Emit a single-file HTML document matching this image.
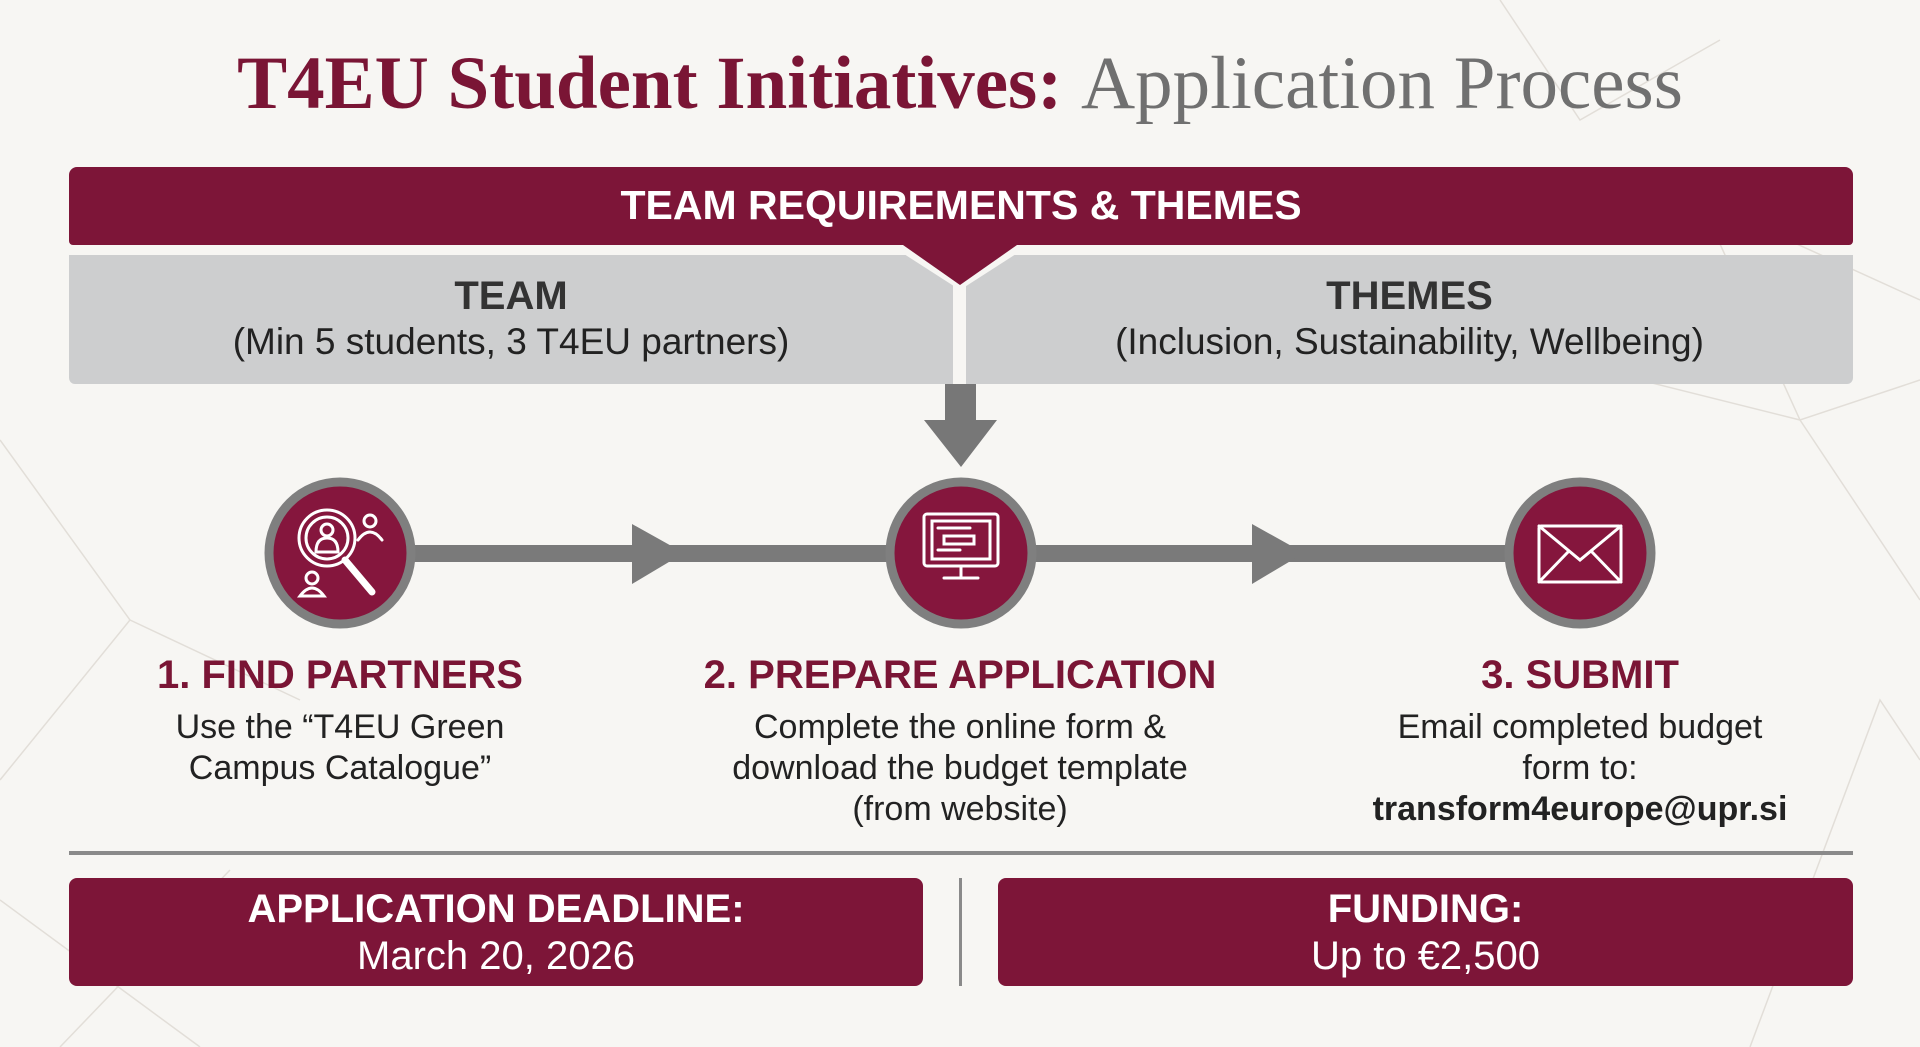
<!DOCTYPE html>
<html><head><meta charset="utf-8"><style>
html,body{margin:0;padding:0}
body{width:1920px;height:1047px;background:#f7f6f3;position:relative;overflow:hidden;font-family:"Liberation Sans",sans-serif}
.abs{position:absolute}
.c{text-align:center}
.title{left:0;width:1920px;top:42px;font-family:"Liberation Serif",serif;font-size:75px;line-height:84px;text-align:center;color:#7a1535;font-weight:bold;white-space:nowrap}
.title span{font-weight:normal;color:#707070}
.bar{background:#7d1538;border-radius:8px;color:#fff}
.st{color:#7a1535;font-weight:bold;font-size:40px;line-height:46px;white-space:nowrap}
.bd{color:#222;font-size:34px;line-height:41px;white-space:nowrap}
</style></head><body>
<svg class="abs" style="left:0;top:0" width="1920" height="1047">
<g stroke="#e2ded8" stroke-width="1.5" fill="none">
<path d="M0 440 L130 620 L0 780 M130 620 L300 700 M0 900 L200 1047 M60 1047 L230 870"/>
<path d="M1480 240 L1700 200 L1920 300 M1700 200 L1800 420 L1920 380 M1800 420 L1920 600 M1750 1047 L1880 700 L1920 760 M1640 380 L1800 420"/>
<path d="M1500 0 L1580 120 L1720 40"/>
</g>
</svg>
<div class="abs title">T4EU Student Initiatives: <span>Application Process</span></div>

<div class="abs bar" style="left:69px;top:167px;width:1784px;height:78px;border-radius:8px 8px 4px 4px"></div>
<div class="abs c" style="left:69px;top:181px;width:1784px;color:#fff;font-weight:bold;font-size:41px;line-height:48px">TEAM REQUIREMENTS &amp; THEMES</div>

<div class="abs" style="left:69px;top:255px;width:884px;height:129px;background:#cdcecf;border-radius:0 0 0 6px"></div>
<div class="abs" style="left:966px;top:255px;width:887px;height:129px;background:#cdcecf;border-radius:0 0 6px 0"></div>
<svg class="abs" style="left:880px;top:240px" width="160" height="60">
<polygon points="10,5 150,5 80,50" fill="#f7f6f3"/>
<polygon points="23,5 137,5 80,45" fill="#7d1538"/>
</svg>
<div class="abs c" style="left:69px;top:273px;width:884px;color:#333;font-size:40px;line-height:46px;font-weight:bold">TEAM</div>
<div class="abs c" style="left:69px;top:320px;width:884px;color:#222;font-size:37px;line-height:44px">(Min 5 students, 3 T4EU partners)</div>
<div class="abs c" style="left:966px;top:273px;width:887px;color:#333;font-size:40px;line-height:46px;font-weight:bold">THEMES</div>
<div class="abs c" style="left:966px;top:320px;width:887px;color:#222;font-size:37px;line-height:44px">(Inclusion, Sustainability, Wellbeing)</div>

<svg class="abs" style="left:0;top:380px" width="1920" height="300">
<polygon points="945,4 976,4 976,40 997,40 961,87 924,40 945,40" fill="#777"/>
<rect x="400" y="165" width="1120" height="17" fill="#7a7a7a"/>
<polygon points="632,144 684,173 632,204" fill="#7a7a7a"/>
<polygon points="1252,144 1304,173 1252,204" fill="#7a7a7a"/>
<g stroke="#7f7f7f" stroke-width="9" fill="#85163d">
<circle cx="340" cy="173" r="71"/>
<circle cx="961" cy="173" r="71"/>
<circle cx="1580" cy="173" r="71"/>
</g>
<g stroke="#fff" stroke-width="3" fill="none" stroke-linecap="round">
<circle cx="327" cy="158" r="28"/><circle cx="327" cy="158" r="21"/>
<line x1="345" y1="180" x2="372" y2="212" stroke-width="7"/>
<circle cx="327" cy="150" r="6"/><path d="M316 172 q0 -14 11 -14 q11 0 11 14 z"/>
<circle cx="370" cy="141" r="6"/><path d="M358 160 q12 -16 24 0"/>
<circle cx="312" cy="198" r="6"/><path d="M300 216 q12 -16 24 0 z"/>
<rect x="924" y="134" width="74" height="52" rx="3"/><rect x="932" y="141" width="58" height="38"/>
<line x1="938" y1="148" x2="970" y2="148"/><rect x="944" y="156" width="30" height="8"/><line x1="938" y1="170" x2="960" y2="170"/>
<line x1="961" y1="186" x2="961" y2="196"/><line x1="944" y1="198" x2="978" y2="198"/>
<rect x="1539" y="146" width="82" height="56" rx="2"/><path d="M1539 146 L1580 180 L1621 146 M1539 202 L1568 172 M1621 202 L1592 172"/>
</g>
</svg>

<div class="abs c st" style="left:140px;top:652px;width:400px">1. FIND PARTNERS</div>
<div class="abs c bd" style="left:140px;top:707px;width:400px">Use the “T4EU Green<br>Campus Catalogue”</div>
<div class="abs c st" style="left:660px;top:652px;width:600px">2. PREPARE APPLICATION</div>
<div class="abs c bd" style="left:660px;top:707px;width:600px">Complete the online form &amp;<br>download the budget template<br>(from website)</div>
<div class="abs c st" style="left:1330px;top:652px;width:500px">3. SUBMIT</div>
<div class="abs c bd" style="left:1330px;top:707px;width:500px">Email completed budget<br>form to:<br><b>transform4europe@upr.si</b></div>

<div class="abs" style="left:69px;top:851px;width:1784px;height:4px;background:#8a8a8a"></div>
<div class="abs" style="left:959px;top:878px;width:3px;height:108px;background:#8a8a8a"></div>
<div class="abs bar" style="left:69px;top:878px;width:854px;height:108px"></div>
<div class="abs bar" style="left:998px;top:878px;width:855px;height:108px"></div>
<div class="abs c" style="left:69px;top:886px;width:854px;color:#fff;font-size:40px;line-height:47px"><b>APPLICATION DEADLINE:</b><br>March 20, 2026</div>
<div class="abs c" style="left:998px;top:886px;width:855px;color:#fff;font-size:40px;line-height:47px"><b>FUNDING:</b><br>Up to €2,500</div>
</body></html>
